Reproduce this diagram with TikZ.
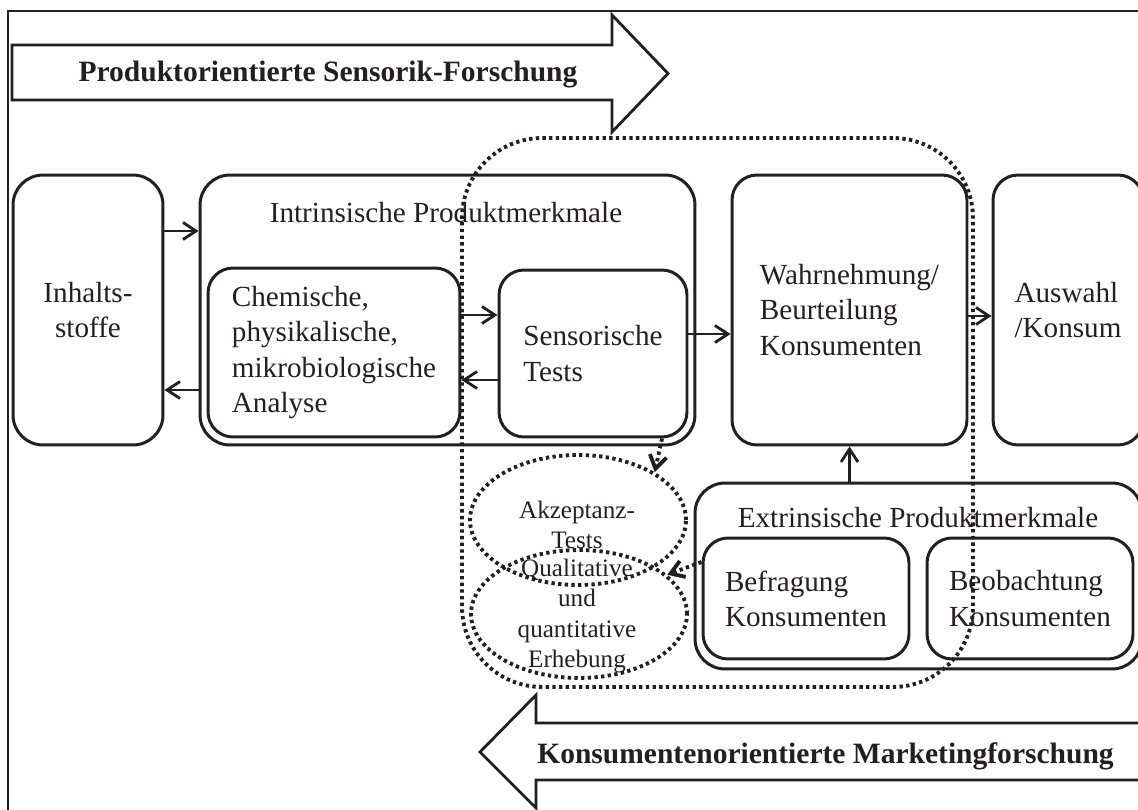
\documentclass[tikz,border=0pt]{standalone}
\usepackage{fontspec}
\setmainfont{Liberation Serif}
\usepackage{tikz}
\usetikzlibrary{arrows.meta,shapes.geometric}
\definecolor{ink}{HTML}{231F20}
\tikzset{
  >={Straight Barb[length=2.6mm,width=3.4mm]},
  % kaesten
  box/.style={draw=ink,line width=1.7pt,rounded corners=0.6cm,inner sep=0pt,
              text=ink,align=center,font=\fontsize{16.6}{20}\selectfont},
  inbox/.style={box,rounded corners=0.5cm,align=left},
  titel/.style={text=ink,inner sep=0pt,anchor=base,font=\fontsize{16.6}{20}\selectfont},
  pfeil/.style={->,draw=ink,line width=1.6pt},
  % gepunktet
  punkt/.style={draw=ink,line width=2.2pt,dash pattern=on 1.9pt off 1.9pt},
  ell/.style={ellipse,punkt,inner sep=0pt},
  etext/.style={text=ink,align=center,inner sep=0pt,font=\fontsize{14.3}{17.3}\selectfont},
  ppfeil/.style={->,punkt},
  % blockpfeile
  block/.style={draw=ink,line width=1.6pt,line join=miter},
  blocktext/.style={text=ink,inner sep=0pt,anchor=base,font=\bfseries\fontsize{16.8}{19}\selectfont},
  rahmen/.style={draw=ink,line width=1.2pt},
}
\begin{document}
\begin{tikzpicture}[x=0.02cm,y=-0.02cm]
\useasboundingbox (0,0) rectangle (1138,810);
  \draw[rahmen] (8,830) -- (8,11) -- (1160,11);
  % blockpfeile
  \draw[block] (12,45) -- (612,45) -- (612,15) -- (668,73.5) -- (612,132)
    -- (612,100) -- (12,100) -- cycle;
  \node[blocktext] (prod) at (328,82) {Produktorientierte Sensorik-Forschung};
  \draw[block] (1160,723) -- (536,723) -- (536,695) -- (480,752) -- (536,808)
    -- (536,780) -- (1160,780);
  \node[blocktext] (kons) at (825.5,763) {Konsumentenorientierte Marketingforschung};
  % kaesten
  \node[box,minimum width=3cm,minimum height=5.4cm] (inh) at (88,310) {Inhalts-\\stoffe};
  \node[box,minimum width=9.9cm,minimum height=5.4cm] (intr) at (447.5,310) {};
  \node[titel] (intrt) at (446,223) {Intrinsische Produktmerkmale};
  \node[inbox,minimum width=5.04cm,minimum height=3.38cm] (chem) at (334,352.5)
    {Chemische,\\physikalische,\\mikrobiologische\\Analyse};
  \node[inbox,minimum width=3.76cm,minimum height=3.34cm] (sens) at (593,353.5) {Sensorische\\Tests};
  \node[inbox,minimum width=4.7cm,minimum height=5.4cm] (wahr) at (849.5,310)
    {Wahrnehmung/\\Beurteilung\\Konsumenten};
  \node[inbox,minimum width=3cm,minimum height=5.4cm] (ausw) at (1068,310) {Auswahl\\/Konsum};
  \node[box,minimum width=8.94cm,minimum height=3.72cm] (extr) at (918.5,576) {};
  \node[titel] (extrt) at (918,527) {Extrinsische Produktmerkmale};
  \node[inbox,minimum width=4.12cm,minimum height=2.42cm] (befr) at (806,598.5) {Befragung\\Konsumenten};
  \node[inbox,minimum width=4.12cm,minimum height=2.42cm] (beob) at (1030,598.5) {Beobachtung\\Konsumenten};
  % pfeile
  \draw[pfeil] (inh.east |- 0,231) -- (intr.west |- 0,231);
  \draw[pfeil] (intr.west |- 0,390) -- (inh.east |- 0,390);
  \draw[pfeil] (chem.east |- 0,315) -- (sens.west |- 0,315);
  \draw[pfeil] (sens.west |- 0,380) -- (chem.east |- 0,380);
  \draw[pfeil] (sens.east |- 0,334) -- (wahr.west |- 0,334);
  \draw[pfeil] (wahr.east |- 0,316) -- (ausw.west |- 0,316);
  \draw[pfeil] (extr.north -| wahr.south) -- (wahr.south);
  % gepunktet
  \node[punkt,rounded corners=1.6cm,inner sep=0pt,minimum width=10.22cm,
    minimum height=10.98cm] (grp) at (717.5,412.5) {};
  \node[ell,minimum width=4.32cm,minimum height=2.6cm] (akz) at (578,520) {};
  \node[ell,minimum width=4.32cm,minimum height=2.56cm] (erh) at (579,614) {};
  \node[etext] (akzt) at (577,525) {Akzeptanz-\\Tests};
  \node[etext] (erht) at (577,616) {Qualitative\\und\\quantitative\\Erhebung};
  \draw[ppfeil] (sens.south -| 662,0) -- (akz.32);
  \draw[ppfeil] (befr.west |- 0,562) -- (erh.24);
\end{tikzpicture}
\end{document}
